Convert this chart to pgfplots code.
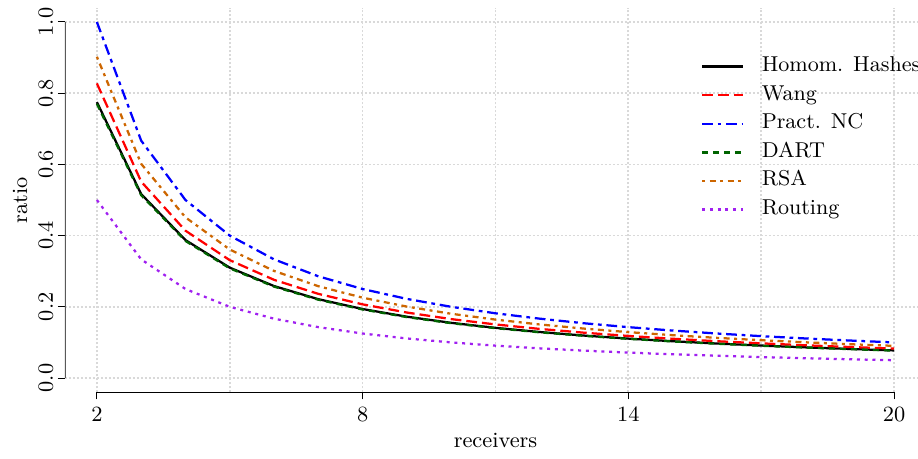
\documentclass[border=0pt]{standalone}
\usepackage{fontspec}
\usepackage{pgfplots}
\usepackage{pgfplotstable}
\pgfplotsset{compat=1.18}

\definecolor{rsaorange}{HTML}{CD6600}
\definecolor{dartgreen}{HTML}{006400}
\definecolor{routepurple}{HTML}{A020F0}
\newcommand{\chartfont}{\fontsize{8.7}{10}\selectfont}
\newcommand{\legendfont}{\fontsize{8.6}{10}\selectfont}

% ratio per number of receivers
\pgfplotstableread{
x  homom  wang   nc     dart   rsa    routing
2  0.775  0.8275 1.0    0.77   0.9025 0.5
3  0.5167 0.5517 0.6667 0.5133 0.6017 0.3333
4  0.3875 0.4138 0.5    0.385  0.4513 0.25
5  0.31   0.331  0.4    0.308  0.361  0.2
6  0.2583 0.2758 0.3333 0.2567 0.3008 0.1667
7  0.2214 0.2364 0.2857 0.22   0.2579 0.1429
8  0.1938 0.2069 0.25   0.1925 0.2256 0.125
9  0.1722 0.1839 0.2222 0.1711 0.2006 0.1111
10 0.155  0.1655 0.2    0.154  0.1805 0.1
11 0.1409 0.1505 0.1818 0.14   0.1641 0.0909
12 0.1292 0.1379 0.1667 0.1283 0.1504 0.0833
13 0.1192 0.1273 0.1538 0.1185 0.1388 0.0769
14 0.1107 0.1182 0.1429 0.11   0.1289 0.0714
15 0.1033 0.1103 0.1333 0.1027 0.1203 0.0667
16 0.0969 0.1034 0.125  0.0963 0.1128 0.0625
17 0.0912 0.0974 0.1176 0.0906 0.1062 0.0588
18 0.0861 0.0919 0.1111 0.0856 0.1003 0.0556
19 0.0816 0.0871 0.1053 0.0811 0.095  0.0526
20 0.0775 0.0828 0.1    0.077  0.0903 0.05
}\ratios

\begin{document}
\begin{tikzpicture}
\begin{axis}[
    name=ax,
    scale only axis,
    width=341.2pt, height=153.8pt,
    xmin=1.28, xmax=20.54, ymin=-0.04, ymax=1.04,
    axis x line*=bottom, axis y line*=left,
    axis line style={draw=none},
    xtick={2,8,14,20}, minor xtick={5,11,17},
    ytick={0,0.2,0.4,0.6,0.8,1},
    /pgf/number format/assume math mode=true,
    yticklabel={\pgfmathprintnumber[fixed,fixed zerofill,precision=1]{\tick}},
    tick align=outside,
    major tick length=2.8pt, minor tick length=0pt,
    tick style={black, line width=0.4pt},
    tick label style={font=\chartfont, inner sep=0pt},
    xticklabel style={anchor=base},
    xticklabel shift=8.8pt,
    yticklabel style={rotate=90, anchor=base},
    yticklabel shift=2pt,
    grid=both,
    major grid style={gray!30, line width=0.7pt, dash pattern=on 0.8pt off 0.8pt},
    minor grid style={gray!30, line width=0.7pt, dash pattern=on 0.8pt off 0.8pt},
    xlabel={receivers}, ylabel={ratio},
    label style={font=\chartfont, inner sep=0pt},
    xlabel style={at={(axis description cs:0.5047,-0.143)}, anchor=base},
    ylabel style={at={(axis description cs:-0.0445,0.5)}, anchor=base},
    legend style={draw=none, fill=none, inner sep=0pt, outer sep=0pt,
        at={(axis description cs:0.7456,0.873)}, anchor=north west,
        font=\legendfont, row sep=3.44pt, cells={anchor=west},
        nodes={inner sep=0pt, text height=6pt, text depth=2pt},
        /tikz/every odd column/.append style={column sep=7pt}},
    legend image code/.code={\draw[#1] (0pt,0pt) -- (16.4pt,0pt);},
    every axis plot/.append style={line width=0.9pt},
]
\addplot[black, solid] table[x=x, y=homom] {\ratios};
\addlegendentry{Homom. Hashes}
\addplot[red, dash pattern=on 4.3pt off 2pt] table[x=x, y=wang] {\ratios};
\addlegendentry{Wang}
\addplot[blue, dash pattern=on 4.3pt off 1.9pt on 1.5pt off 1.9pt] table[x=x, y=nc] {\ratios};
\addlegendentry{Pract. NC}
\addplot[dartgreen, dash pattern=on 2.4pt off 2pt] table[x=x, y=dart] {\ratios};
\addlegendentry{DART}
\addplot[rsaorange, dash pattern=on 1.2pt off 1.8pt on 2.4pt off 1.8pt] table[x=x, y=rsa] {\ratios};
\addlegendentry{RSA}
\addplot[routepurple, dash pattern=on 1.2pt off 1.9pt] table[x=x, y=routing] {\ratios};
\addlegendentry{Routing}

% R-style axis lines, only between the outer ticks
\draw[black, line width=0.4pt] (axis cs:2,-0.04) -- (axis cs:20,-0.04);
\draw[gray!70!black, line width=0.5pt] (axis cs:1.28,0) -- (axis cs:1.28,1);
\end{axis}
\pgfresetboundingbox
\path[use as bounding box] ([xshift=-26pt,yshift=-26.3pt]ax.south west) rectangle ([yshift=3.1pt]ax.north east);
\end{tikzpicture}
\end{document}
